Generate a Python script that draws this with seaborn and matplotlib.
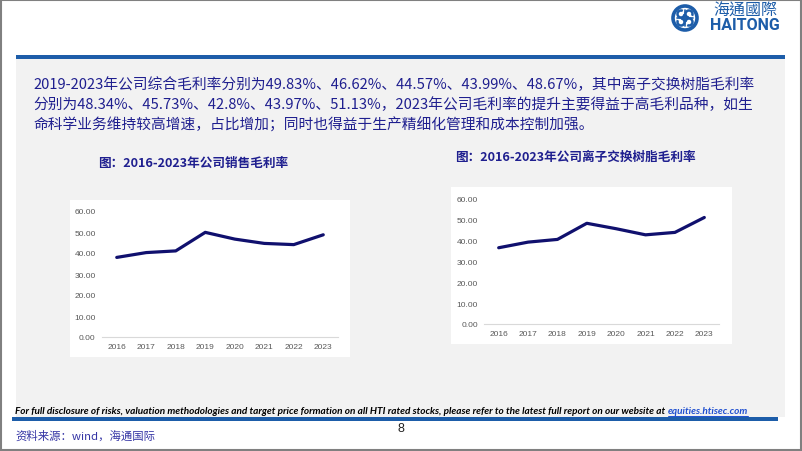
import numpy as np
import pandas as pd
import matplotlib.pyplot as plt
import seaborn as sns
from matplotlib.patches import Rectangle, Circle, Arc

W, H = 802, 452

# data (2019-2023 values from the paragraph text)
years = ['2016', '2017', '2018', '2019', '2020', '2021', '2022', '2023']
gross_margin = [37.9, 40.2, 41.0, 49.83, 46.62, 44.57, 43.99, 48.67]
resin_margin = [36.6, 39.3, 40.6, 48.34, 45.73, 42.8, 43.97, 51.13]
y_ticks = [0, 10, 20, 30, 40, 50, 60]

title_left = '图：2016-2023年公司销售毛利率'
title_right = '图：2016-2023年公司离子交换树脂毛利率'
paragraph = [
    '2019-2023年公司综合毛利率分别为49.83%、46.62%、44.57%、43.99%、48.67%，其中离子交换树脂毛利率',
    '分别为48.34%、45.73%、42.8%、43.97%、51.13%，2023年公司毛利率的提升主要得益于高毛利品种，如生',
    '命科学业务维持较高增速，占比增加；同时也得益于生产精细化管理和成本控制加强。',
]
disclaimer = ('For full disclosure of risks, valuation methodologies and target price formation '
              'on all HTI rated stocks, please refer to the latest full report on our website at ')
link = 'equities.htisec.com'
source = '资料来源：wind，海通国际'

NAVY = '#1F1F8F'
LINE = '#10106E'
BLUE = '#1D5DA9'
PANEL = '#F2F2F2'

sns.set_style('white')
plt.rcParams['font.family'] = ['Noto Sans CJK SC', 'DejaVu Sans']

fig = plt.figure(figsize=(W / 100, H / 100), dpi=100)

# background layer in pixel coordinates
bg = fig.add_axes([0, 0, 1, 1])
bg.set_xlim(0, W)
bg.set_ylim(H, 0)
bg.axis('off')


def rect(x0, y0, x1, y1, color):
    bg.add_patch(Rectangle((x0, y0), x1 - x0, y1 - y0, facecolor=color, edgecolor='none'))


rect(16, 60, 785, 418, PANEL)
rect(16, 56, 785, 59.5, BLUE)
rect(12, 418, 778, 421.5, BLUE)
rect(70, 201, 350, 358, 'white')
rect(451, 188, 732, 345, 'white')
bg.add_patch(Rectangle((0.8, 0.8), W - 1.6, H - 1.6, fill=False, edgecolor='#808080', lw=1.5))

# logo
bg.add_patch(Circle((685, 19), 12, fill=False, edgecolor=BLUE, lw=2.6))
for dx, dy, a in [(-4, -4, 0), (4, -4, 90), (4, 4, 180), (-4, 4, 270)]:
    bg.add_patch(Arc((685 + dx, 19 + dy), 7, 7, angle=a, theta1=0, theta2=300, color=BLUE, lw=1.8))
bg.plot([677, 693], [19, 19], color=BLUE, lw=1.2)
bg.plot([685, 685], [11, 27], color=BLUE, lw=1.2)
bg.text(745, 11, '海通國際', ha='center', va='center', fontsize=11.5, color=BLUE,
        family=['Noto Sans CJK TC', 'DejaVu Sans'])
bg.text(745, 25.5, 'HAITONG', ha='center', va='center', fontsize=11.5, color=BLUE,
        family='Roboto', fontweight='bold')

# paragraph
for i, line in enumerate(paragraph):
    bg.text(33, 85 + i * 20, line, ha='left', va='center', fontsize=10.6, color=NAVY)

bg.text(193, 163, title_left, ha='center', va='center', fontsize=9.1, fontweight='bold', color=NAVY)
bg.text(575, 157, title_right, ha='center', va='center', fontsize=9.1, fontweight='bold', color=NAVY)

# footer
bg.text(667, 412, disclaimer, ha='right', va='center', fontsize=7.2, family='Lato',
        style='italic', fontweight='bold', color='black')
bg.text(668, 412, link, ha='left', va='center', fontsize=7.2, family='Lato',
        style='italic', fontweight='bold', color='#1F4FD0')
bg.plot([668, 748], [416.5, 416.5], color='#1F4FD0', lw=0.7)
bg.text(401, 429, '8', ha='center', va='center', fontsize=9, family='Liberation Sans', color='#222222')
bg.text(15, 436, source, ha='left', va='center', fontsize=8.2, color='#3535A5')


def px_axes(x0, y0, x1, y1):
    return fig.add_axes([x0 / W, 1 - y1 / H, (x1 - x0) / W, (y1 - y0) / H])


def draw_chart(ax, values):
    df = pd.DataFrame({'year': years, 'value': values})
    sns.lineplot(data=df, x='year', y='value', ax=ax, color=LINE, lw=2.3)
    ax.set_xlim(-0.5, len(years) - 0.5)
    ax.set_ylim(0, 60)
    ax.set_yticks(y_ticks)
    ax.set_yticklabels([f'{v:.2f}' for v in y_ticks])
    ax.set_xlabel('')
    ax.set_ylabel('')
    ax.patch.set_alpha(0)
    for s in ['top', 'left', 'right']:
        ax.spines[s].set_visible(False)
    ax.spines['bottom'].set_color('#D9D9D9')
    ax.spines['bottom'].set_linewidth(0.8)
    ax.tick_params(axis='both', length=0, labelsize=6, colors='#595959')
    ax.tick_params(axis='x', pad=4)
    ax.tick_params(axis='y', pad=4.5)
    for lab in ax.get_xticklabels() + ax.get_yticklabels():
        lab.set_family('Liberation Sans')


draw_chart(px_axes(102, 212, 338, 338), gross_margin)
draw_chart(px_axes(484, 200, 719, 325), resin_margin)

fig.savefig('out.png', dpi=100)
